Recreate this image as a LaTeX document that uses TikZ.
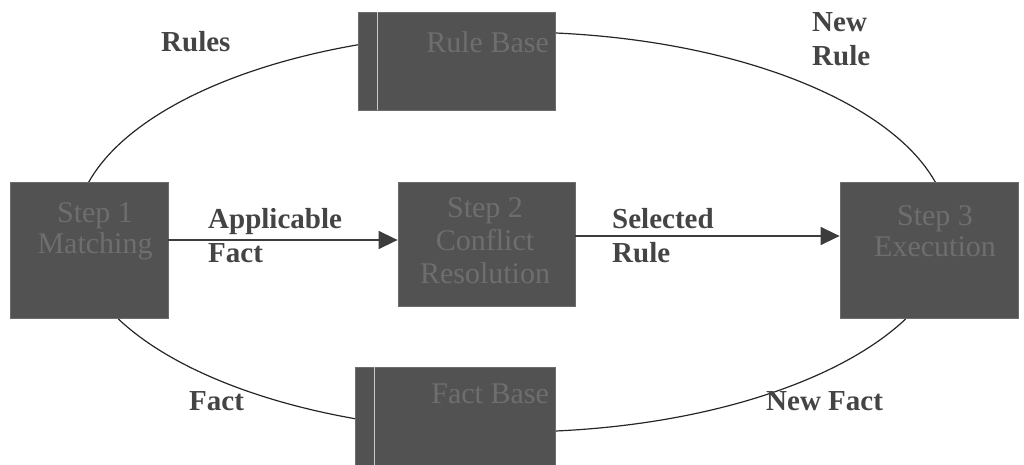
\documentclass[tikz,border=0pt]{standalone}
\usepackage{fontspec}
\setmainfont{Liberation Serif}
\usetikzlibrary{arrows.meta}
\definecolor{boxfill}{RGB}{82,82,82}
\definecolor{boxtext}{RGB}{110,110,110}
\definecolor{arrowcol}{RGB}{60,60,60}
\definecolor{lblcol}{RGB}{68,68,68}
\begin{document}
\begin{tikzpicture}[x=1pt,y=-1pt,
  stagebox/.style={draw=boxfill!85!white,line width=0.8pt,fill=boxfill,inner sep=0pt},
  boxlbl/.style={text=boxtext,font=\fontsize{30}{31}\selectfont,align=center,inner sep=0pt},
  lbl/.style={font=\fontsize{29}{34}\selectfont\bfseries,text=lblcol,align=left,anchor=base west,inner sep=0pt},
  flow/.style={draw=arrowcol,line width=1.5pt,-{Triangle[length=19pt,width=18pt]}}]
\useasboundingbox (0,0) rectangle (1024,465);
\draw[black!85,line width=1.2pt] (512,232) ellipse [x radius=437, y radius=200];
\node[stagebox,minimum width=197pt,minimum height=98pt] (rb) at (456.5,61) {};
\node[stagebox,minimum width=200pt,minimum height=98pt] (fb) at (455,416) {};
\node[stagebox,minimum width=158pt,minimum height=136pt] (s1) at (89,250) {};
\node[stagebox,minimum width=177pt,minimum height=124pt] (s2) at (486.5,244) {};
\node[stagebox,minimum width=178pt,minimum height=136pt] (s3) at (929,250) {};
\draw[white!70!boxfill,line width=1.5pt] ([xshift=20pt]rb.north west) -- ([xshift=20pt]rb.south west);
\draw[white!70!boxfill,line width=1.5pt] ([xshift=20pt]fb.north west) -- ([xshift=20pt]fb.south west);
\node[boxlbl,anchor=base east] (rbt) at (549,53) {Rule Base};
\node[boxlbl,anchor=base east] (fbt) at (549,403) {Fact Base};
\node[boxlbl] (s1t) at (95,231) {Step 1\\Matching};
\node[boxlbl,font=\fontsize{30}{33}\selectfont] (s2t) at (485,241) {Step 2\\Conflict\\Resolution};
\node[boxlbl] (s3t) at (935,231) {Step 3\\Execution};
\coordinate (a1s) at (168,240);
\coordinate (a1e) at (398,240);
\coordinate (a2s) at (575,236);
\coordinate (a2e) at (840,236);
\draw[flow] (s1.east |- a1s) -- (s2.west |- a1e);
\draw[flow] (s2.east |- a2s) -- (s3.west |- a2e);
\node[lbl] (l1) at (161,52) {Rules};
\node[lbl] (l2) at (812,66) {New\\Rule};
\node[lbl] (l3) at (208,262) {Applicable\\Fact};
\node[lbl] (l4) at (612,262) {Selected\\Rule};
\node[lbl] (l5) at (189,410) {Fact};
\node[lbl] (l6) at (766,410) {New Fact};
\end{tikzpicture}
\end{document}
